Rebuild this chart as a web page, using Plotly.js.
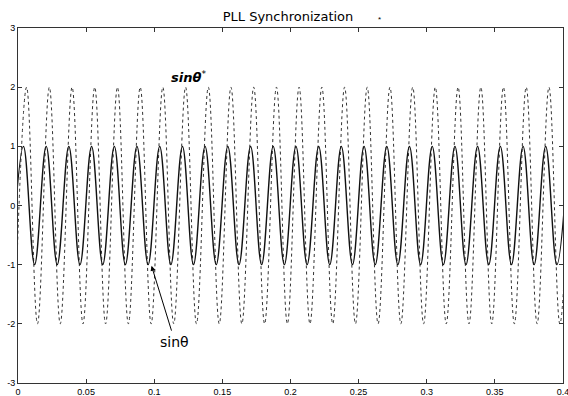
<!DOCTYPE html>
<html>
<head>
<meta charset="utf-8">
<script src="https://cdn.plot.ly/plotly-3.0.1.min.js"></script>
<style>html,body{margin:0;padding:0;background:#fff;}#chart{width:568px;height:396px;}</style>
</head>
<body>
<div id="chart"></div>
<script>
var solidT = [-0.0045, 0.004, 0.0122, 0.0207, 0.0288, 0.0373, 0.0455, 0.054, 0.0622, 0.0707,
  0.0788, 0.0873, 0.0955, 0.104, 0.1122, 0.1207, 0.1288, 0.1373, 0.1455, 0.154,
  0.1622, 0.1707, 0.1788, 0.1873, 0.1955, 0.204, 0.2122, 0.2207, 0.2288, 0.2373,
  0.2455, 0.254, 0.2622, 0.2707, 0.2788, 0.2873, 0.2955, 0.304, 0.3122, 0.3207,
  0.3288, 0.3373, 0.3455, 0.354, 0.3622, 0.3707, 0.3788, 0.3873, 0.3955, 0.404];
var solidV = [-1, 1, -1, 1, -1, 1, -1, 1, -1, 1,
  -1, 1, -1, 1, -1, 1, -1, 1, -1, 1,
  -1, 1, -1, 1, -1, 1, -1, 1, -1, 1,
  -1, 1, -1, 1, -1, 1, -1, 1, -1, 1,
  -1, 1, -1, 1, -1, 1, -1, 1, -1, 1];
// Dotted curve (sinθ*): times of successive troughs/peaks and their values
var dotT = [-0.0023, 0.0063, 0.0143, 0.023, 0.031, 0.0397, 0.0477, 0.0563, 0.0643, 0.073,
  0.081, 0.0897, 0.0977, 0.1063, 0.1143, 0.123, 0.131, 0.1397, 0.1477, 0.1563,
  0.1643, 0.173, 0.181, 0.1897, 0.1977, 0.2063, 0.2143, 0.223, 0.231, 0.2397,
  0.2477, 0.2563, 0.2643, 0.273, 0.281, 0.2897, 0.2977, 0.3063, 0.3143, 0.323,
  0.331, 0.3397, 0.3477, 0.3563, 0.3643, 0.373, 0.381, 0.3897, 0.3977, 0.4063];
var dotV = [-2, 2, -2, 2, -2, 2, -2, 2, -2, 2,
  -2, 2, -2, 2, -2, 2, -2, 2, -2, 2,
  -2, 2, -2, 2, -2, 2, -2, 2, -2, 2,
  -2, 2, -2, 2, -2, 2, -2, 2, -2, 2,
  -2, 2, -2, 2, -2, 2, -2, 2, -2, 2];

var xTicks = [0, 0.05, 0.1, 0.15, 0.2, 0.25, 0.3, 0.35, 0.4];
var xTickText = ['0', '0.05', '0.1', '0.15', '0.2', '0.25', '0.3', '0.35', '0.4'];
var yTicks = [-3, -2, -1, 0, 1, 2, 3];
var yTickText = ['-3', '-2', '-1', '0', '1', '2', '3'];

var font = 'Arial, "Liberation Sans", sans-serif';
var font2 = '"DejaVu Sans", sans-serif';

var traces = [
  {x: dotT, y: dotV, mode: 'lines', line: {color: '#333', width: 1, dash: 'dot', shape: 'spline', smoothing: 1.1}, hoverinfo: 'skip'},
  {x: solidT, y: solidV, mode: 'lines', line: {color: '#111', width: 1.4, shape: 'spline', smoothing: 1.1}, hoverinfo: 'skip'}
];

var axisCommon = {
  showgrid: false, zeroline: false, showline: true, mirror: 'ticks',
  linecolor: '#333', linewidth: 1, ticks: 'inside', ticklen: 4, tickcolor: '#333',
  ticklabeloverflow: 'allow',
  tickfont: {family: font, size: 9, color: '#000'}
};

var layout = {
  width: 568, height: 396,
  margin: {l: 18, r: 5, t: 28, b: 13},
  paper_bgcolor: '#fff', plot_bgcolor: '#fff',
  showlegend: false,
  title: {text: 'PLL Synchronization', font: {family: font2, size: 13, color: '#000'},
          x: (288 - 18) / 545, xref: 'paper', xanchor: 'center', y: 1 - 16.5 / 396, yref: 'container', yanchor: 'middle'},
  xaxis: Object.assign({}, axisCommon, {range: [-0.000001, 0.400001], tickvals: xTicks, ticktext: xTickText}),
  yaxis: Object.assign({}, axisCommon, {range: [-3.00001, 3.00001], tickvals: yTicks, ticktext: yTickText}),
  annotations: [
    {xref: 'paper', yref: 'paper', x: (188 - 18) / 545, y: (383 - 77) / 355,
     text: '<b><i>sinθ</i></b><sup>*</sup>', showarrow: false,
     font: {family: font2, size: 13, color: '#000'}, xanchor: 'center', yanchor: 'middle'},
    {xref: 'paper', yref: 'paper', x: (174 - 18) / 545, y: (383 - 342) / 355,
     text: 'sinθ', showarrow: false,
     font: {family: font2, size: 14, color: '#000'}, xanchor: 'center', yanchor: 'middle'},
    {xref: 'x', yref: 'y', x: 0.098, y: -1.02, axref: 'x', ayref: 'y', ax: 0.113, ay: -2.14,
     text: '', showarrow: true, arrowhead: 2, arrowsize: 1, arrowwidth: 1, arrowcolor: '#000', standoff: 0},
    {xref: 'paper', yref: 'paper', x: (379 - 18) / 545, y: (383 - 13) / 355,
     text: '*', showarrow: false, font: {family: font, size: 8, color: '#000'}}
  ]
};

Plotly.newPlot('chart', traces, layout, {staticPlot: true, displayModeBar: false});
</script>
</body>
</html>
